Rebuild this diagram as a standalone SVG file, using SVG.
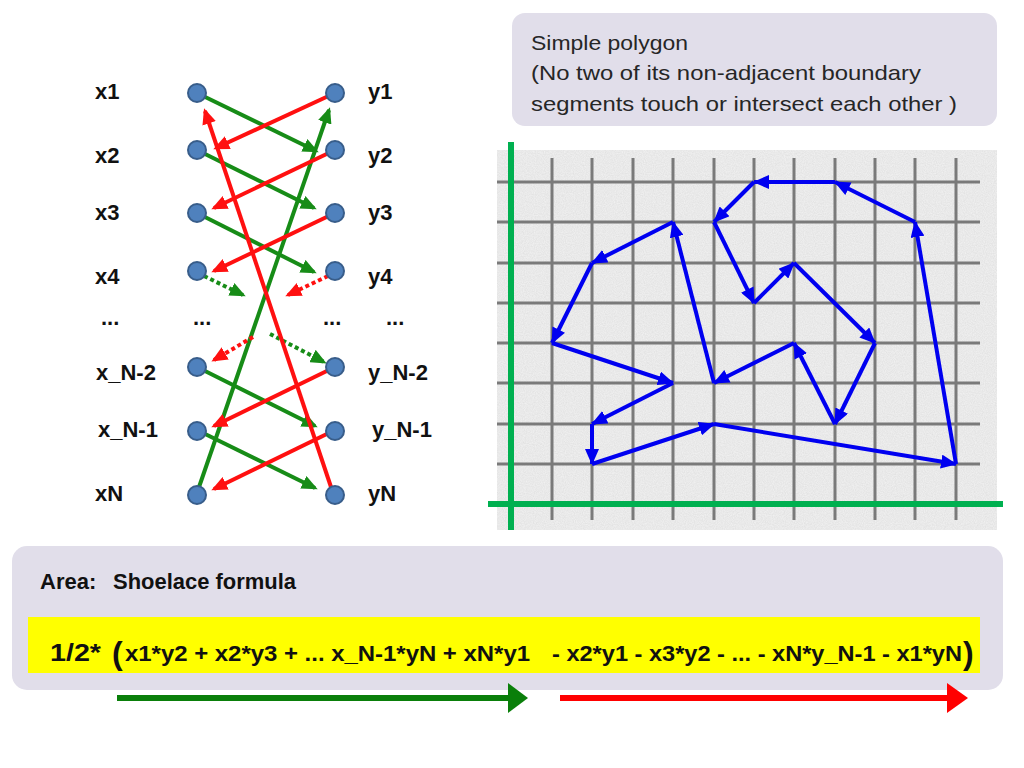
<svg xmlns="http://www.w3.org/2000/svg" width="1024" height="768" viewBox="0 0 1024 768">
<style>
.lbl{font-family:"Liberation Sans",Arial,sans-serif;font-weight:bold;font-size:22px;fill:#111}
.txt{font-family:"Liberation Sans",Arial,sans-serif;font-size:21px;fill:#262626}
.fx{font-family:"Liberation Sans",Arial,sans-serif;font-weight:bold;font-size:22px;fill:#111}
.node{fill:#4F81BD;stroke:#385D8A;stroke-width:2}
.g{stroke:#178C17;stroke-width:4;fill:none;marker-end:url(#ag)}
.r{stroke:#FF1010;stroke-width:4;fill:none;marker-end:url(#ar)}
.dot{stroke-dasharray:4 3}
.b{stroke:#0000F0;stroke-width:4;fill:none;marker-end:url(#ab)}
.grid{stroke:#7A7A7A;stroke-width:3}
.axis{stroke:#00B050;stroke-width:6}
.box{fill:#E1DEEA}
</style>
<defs>
<marker id="ag" markerUnits="userSpaceOnUse" markerWidth="16" markerHeight="14" viewBox="0 0 16 14" refX="13" refY="7" orient="auto"><path d="M0,0 L16,7 L0,14 z" fill="#178C17"/></marker>
<marker id="ar" markerUnits="userSpaceOnUse" markerWidth="16" markerHeight="14" viewBox="0 0 16 14" refX="13" refY="7" orient="auto"><path d="M0,0 L16,7 L0,14 z" fill="#FF1010"/></marker>
<marker id="ab" markerUnits="userSpaceOnUse" markerWidth="16" markerHeight="14" viewBox="0 0 16 14" refX="15" refY="7" orient="auto"><path d="M0,0 L16,7 L0,14 z" fill="#0000F0"/></marker>
<filter id="tex" x="0" y="0" width="1" height="1">
<feTurbulence type="fractalNoise" baseFrequency="0.9" numOctaves="2" seed="3" result="n"/>
<feColorMatrix in="n" type="matrix" values="0 0 0 0 0.6  0 0 0 0 0.6  0 0 0 0 0.6  0 0 0 0.6 -0.1" result="c"/>
<feComposite in="c" in2="SourceGraphic" operator="in" result="m"/>
<feMerge><feMergeNode in="SourceGraphic"/><feMergeNode in="m"/></feMerge>
</filter>
</defs>
<rect width="1024" height="768" fill="#FFFFFF"/>

<!-- top note box -->
<g id="note">
<rect class="box" x="512" y="13" width="485" height="113" rx="13"/>
<text class="txt" x="531" y="50" textLength="157" lengthAdjust="spacingAndGlyphs">Simple polygon</text>
<text class="txt" x="531" y="80" textLength="390" lengthAdjust="spacingAndGlyphs">(No two of its non-adjacent boundary</text>
<text class="txt" x="531" y="111" textLength="426" lengthAdjust="spacingAndGlyphs">segments touch or  intersect each other )</text>
</g>

<!-- grid plot -->
<g id="plot">
<rect x="497" y="150" width="500" height="380" fill="#F0F0F0" filter="url(#tex)"/>
<g class="grid">
<line x1="552" y1="158" x2="552" y2="520"/>
<line x1="592" y1="158" x2="592" y2="520"/>
<line x1="633" y1="158" x2="633" y2="520"/>
<line x1="673" y1="158" x2="673" y2="520"/>
<line x1="714" y1="158" x2="714" y2="520"/>
<line x1="754" y1="158" x2="754" y2="520"/>
<line x1="794" y1="158" x2="794" y2="520"/>
<line x1="835" y1="158" x2="835" y2="520"/>
<line x1="875" y1="158" x2="875" y2="520"/>
<line x1="915" y1="158" x2="915" y2="520"/>
<line x1="956" y1="158" x2="956" y2="520"/>
<line x1="497" y1="182" x2="980" y2="182"/>
<line x1="497" y1="222" x2="980" y2="222"/>
<line x1="497" y1="263" x2="980" y2="263"/>
<line x1="497" y1="303" x2="980" y2="303"/>
<line x1="497" y1="343" x2="980" y2="343"/>
<line x1="497" y1="383" x2="980" y2="383"/>
<line x1="497" y1="424" x2="980" y2="424"/>
<line x1="497" y1="464" x2="980" y2="464"/>
</g>
<line class="axis" x1="511" y1="142" x2="511" y2="530"/>
<line class="axis" x1="488" y1="504" x2="1003" y2="504"/>
</g>

<!-- polygon edges -->
<g id="polygon">
<line class="b" x1="754" y1="182" x2="714" y2="222"/>
<line class="b" x1="714" y1="222" x2="754" y2="303"/>
<line class="b" x1="754" y1="303" x2="794" y2="263"/>
<line class="b" x1="794" y1="263" x2="875" y2="343"/>
<line class="b" x1="875" y1="343" x2="835" y2="424"/>
<line class="b" x1="835" y1="424" x2="794" y2="343"/>
<line class="b" x1="794" y1="343" x2="714" y2="383"/>
<line class="b" x1="714" y1="383" x2="673" y2="222"/>
<line class="b" x1="673" y1="222" x2="592" y2="263"/>
<line class="b" x1="592" y1="263" x2="552" y2="343"/>
<line class="b" x1="552" y1="343" x2="673" y2="383"/>
<line class="b" x1="673" y1="383" x2="592" y2="424"/>
<line class="b" x1="592" y1="424" x2="592" y2="464"/>
<line class="b" x1="592" y1="464" x2="714" y2="424"/>
<line class="b" x1="714" y1="424" x2="956" y2="464"/>
<line class="b" x1="956" y1="464" x2="915" y2="222"/>
<line class="b" x1="915" y1="222" x2="835" y2="182"/>
<line class="b" x1="835" y1="182" x2="754" y2="182"/>
</g>

<!-- connectors of the left diagram -->
<g id="connectors">
<line class="g" x1="197" y1="93" x2="316" y2="151"/>
<line class="g" x1="197" y1="150" x2="314" y2="208"/>
<line class="g" x1="197" y1="213" x2="314" y2="272"/>
<line class="g dot" x1="204" y1="276" x2="243" y2="295"/>
<line class="g" x1="198" y1="490" x2="329" y2="110"/>
<line class="g dot" x1="270" y1="334" x2="324" y2="362"/>
<line class="g" x1="197" y1="367" x2="315" y2="426"/>
<line class="g" x1="197" y1="430" x2="315" y2="488"/>
<line class="r" x1="335" y1="93" x2="216" y2="148"/>
<line class="r" x1="335" y1="150" x2="214" y2="208"/>
<line class="r" x1="335" y1="213" x2="214" y2="271"/>
<line class="r dot" x1="328" y1="276" x2="288" y2="295"/>
<line class="r" x1="332" y1="490" x2="205" y2="111"/>
<line class="r dot" x1="253" y1="337" x2="214" y2="360"/>
<line class="r" x1="335" y1="367" x2="214" y2="426"/>
<line class="r" x1="335" y1="430" x2="214" y2="489"/>
</g>

<!-- nodes -->
<g id="node-x1"><circle class="node" cx="197" cy="93" r="9"/><text class="lbl" x="95" y="99">x1</text></g>
<g id="node-x2"><circle class="node" cx="197" cy="150" r="9"/><text class="lbl" x="95" y="163">x2</text></g>
<g id="node-x3"><circle class="node" cx="197" cy="213" r="9"/><text class="lbl" x="95" y="220">x3</text></g>
<g id="node-x4"><circle class="node" cx="197" cy="271" r="9"/><text class="lbl" x="95" y="284">x4</text></g>
<g id="node-xN-2"><circle class="node" cx="197" cy="367" r="9"/><text class="lbl" x="96" y="380">x_N-2</text></g>
<g id="node-xN-1"><circle class="node" cx="197" cy="431" r="9"/><text class="lbl" x="98" y="437">x_N-1</text></g>
<g id="node-xN"><circle class="node" cx="197" cy="495" r="9"/><text class="lbl" x="95" y="501">xN</text></g>
<g id="node-y1"><circle class="node" cx="335" cy="93" r="9"/><text class="lbl" x="368" y="99">y1</text></g>
<g id="node-y2"><circle class="node" cx="335" cy="150" r="9"/><text class="lbl" x="368" y="163">y2</text></g>
<g id="node-y3"><circle class="node" cx="335" cy="213" r="9"/><text class="lbl" x="368" y="220">y3</text></g>
<g id="node-y4"><circle class="node" cx="335" cy="271" r="9"/><text class="lbl" x="368" y="284">y4</text></g>
<g id="node-yN-2"><circle class="node" cx="335" cy="367" r="9"/><text class="lbl" x="368" y="380">y_N-2</text></g>
<g id="node-yN-1"><circle class="node" cx="335" cy="431" r="9"/><text class="lbl" x="372" y="437">y_N-1</text></g>
<g id="node-yN"><circle class="node" cx="335" cy="495" r="9"/><text class="lbl" x="368" y="501">yN</text></g>
<g id="ellipses">
<text class="lbl" x="101" y="325">...</text>
<text class="lbl" x="193" y="325">...</text>
<text class="lbl" x="323" y="325">...</text>
<text class="lbl" x="386" y="325">...</text>
</g>

<!-- formula box -->
<g id="formula">
<rect class="box" x="12" y="546" width="991" height="144" rx="15"/>
<text class="fx" x="40" y="589">Area:</text>
<text class="fx" x="113" y="589" textLength="183" lengthAdjust="spacingAndGlyphs">Shoelace formula</text>
<rect x="28" y="617" width="952" height="56" fill="#FFFF00"/>
<text class="fx" x="50" y="661" textLength="51" lengthAdjust="spacingAndGlyphs" style="font-size:24px">1/2*</text>
<text class="fx" x="112" y="664" style="font-size:32px">(</text>
<text class="fx" x="125" y="661" textLength="405" lengthAdjust="spacingAndGlyphs">x1*y2 + x2*y3 +  ...  x_N-1*yN  + xN*y1</text>
<text class="fx" x="552" y="661" textLength="410" lengthAdjust="spacingAndGlyphs">- x2*y1 - x3*y2 - ... - xN*y_N-1 - x1*yN</text>
<text class="fx" x="963" y="664" style="font-size:32px">)</text>
</g>

<g id="direction-arrows">
<line x1="117" y1="698" x2="510" y2="698" stroke="#0A7F0A" stroke-width="6"/>
<polygon points="508,683 528,698 508,713" fill="#0A7F0A"/>
<line x1="560" y1="698" x2="950" y2="698" stroke="#FF0000" stroke-width="6"/>
<polygon points="947,683 968,698 947,713" fill="#FF0000"/>
</g>
</svg>
